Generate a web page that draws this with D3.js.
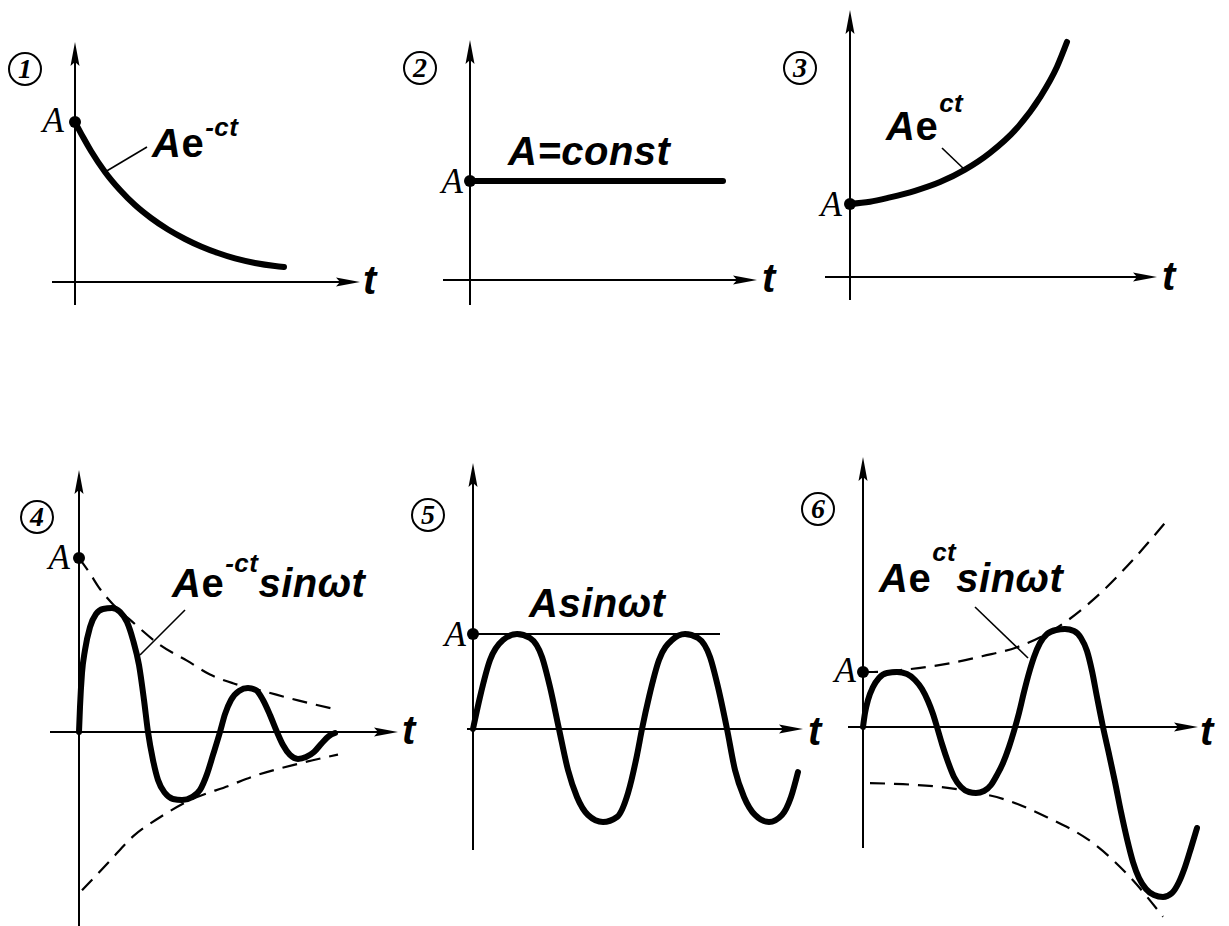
<!DOCTYPE html>
<html>
<head>
<meta charset="utf-8">
<script src="https://cdn.jsdelivr.net/npm/d3@7"></script>
<style>
  html, body { margin: 0; padding: 0; background: #fff; }
  svg { display: block; }
  .lbl { font-family: "Liberation Sans", Arial, sans-serif; font-weight: bold; font-style: italic; fill: #000; }
  .amp { font-family: "Liberation Serif", "Times New Roman", serif; font-style: italic; fill: #000; }
  .num { font-family: "Liberation Serif", "Times New Roman", serif; font-style: italic; font-weight: bold; fill: #000; }
</style>
</head>
<body>
<svg id="chart" width="1229" height="926"></svg>
<script>
// ---- Curve samples: time t (arbitrary units), value v relative to amplitude A ----

// 1: decaying exponential  A·e^(-ct)
const decayT = [0, 0.8, 1.6, 3.0, 4.5, 6.0, 7.6, 9.3, 11.0, 12.6, 14.3, 16.0, 18.0, 20.0, 20.9];
const decayV = [1.000, 0.906, 0.819, 0.688, 0.575, 0.481, 0.400, 0.328, 0.269, 0.222, 0.181, 0.147, 0.119, 0.100, 0.094];

// 2: constant  A = const
const constT = [0, 25.3];
const constV = [1, 1];

// 3: growing exponential  A·e^(ct)
const growT = [0, 2.0, 4.0, 6.5, 9.0, 11.5, 14.0, 16.7, 19.0, 20.7, 21.7];
const growV = [1.00, 1.03, 1.09, 1.18, 1.30, 1.47, 1.70, 2.04, 2.46, 2.88, 3.22];

// 4: damped oscillation  A·e^(-ct)·sin ωt  with its envelopes
const dampT = [0, 0.1, 0.3, 0.6, 1.1, 1.7, 2.4, 3.3, 4.1, 4.8, 5.4, 6.0, 6.5, 6.9, 7.4, 7.9, 8.6, 9.4, 10.3, 11.3, 12.1, 12.8, 13.4, 14.1, 14.6, 15.2, 16.0, 16.9, 17.7, 18.4, 19.1, 19.8, 20.4, 21.1, 21.9, 22.7, 23.5, 24.3, 25.0, 25.6];
const dampV = [0, 0.144, 0.339, 0.471, 0.603, 0.678, 0.707, 0.713, 0.690, 0.632, 0.529, 0.385, 0.184, 0, -0.161, -0.276, -0.351, -0.385, -0.391, -0.374, -0.333, -0.242, -0.132, 0, 0.103, 0.184, 0.236, 0.253, 0.241, 0.184, 0.098, 0, -0.075, -0.132, -0.155, -0.144, -0.115, -0.063, -0.023, -0.006];
const dampUpT = [0, 1.0, 2.0, 3.3, 5.4, 8.1, 10.8, 13.1, 15.4, 18.1, 22.0, 25.7];
const dampUpV = [1.00, 0.92, 0.83, 0.74, 0.63, 0.50, 0.41, 0.33, 0.28, 0.24, 0.18, 0.13];
const dampLoT = [0.3, 3.1, 5.4, 8.1, 10.8, 15.4, 16.7, 22.1, 25.9];
const dampLoV = [-0.91, -0.74, -0.60, -0.49, -0.40, -0.30, -0.27, -0.18, -0.13];

// 5: steady oscillation  A·sin ωt
const sineT = [0, 0.7, 1.7, 3.0, 4.4, 5.7, 6.9, 7.7, 8.6, 9.5, 10.4, 11.5, 13.0, 14.4, 15.5, 16.4, 16.9, 17.6, 18.6, 19.9, 21.2, 22.5, 23.7, 24.5, 25.4, 26.2, 27.1, 28.2, 29.6, 30.9, 31.8, 32.5];
const sineV = [0, 0.337, 0.726, 0.937, 1.000, 0.958, 0.758, 0.442, 0, -0.432, -0.716, -0.905, -0.979, -0.926, -0.674, -0.274, 0, 0.337, 0.726, 0.937, 1.000, 0.958, 0.758, 0.442, 0, -0.432, -0.716, -0.905, -0.979, -0.905, -0.716, -0.453];
const sineRefT = [0, 24.7];
const sineRefV = [1, 1];

// 6: growing oscillation  A·e^(ct)·sin ωt  with its envelopes
const swellT = [0, 0.2, 0.5, 1.0, 1.6, 2.4, 3.4, 4.4, 5.2, 5.9, 6.5, 7.0, 7.4, 7.9, 8.5, 9.1, 9.8, 10.6, 11.3, 12.1, 12.8, 13.4, 14.0, 14.6, 15.1, 15.6, 16.1, 16.6, 17.1, 17.7, 18.4, 19.3, 20.2, 21.1, 21.8, 22.4, 22.9, 23.4, 24.0, 24.6, 25.2, 25.8, 26.4, 27.0, 27.6, 28.3, 29.1, 30.0, 30.9, 31.6, 32.2, 32.8, 33.4];
const swellV = [0, 0.255, 0.491, 0.727, 0.891, 0.982, 1.000, 0.964, 0.855, 0.691, 0.473, 0.236, 0, -0.309, -0.636, -0.909, -1.091, -1.182, -1.200, -1.164, -1.055, -0.873, -0.655, -0.364, -0.073, 0.255, 0.636, 0.982, 1.273, 1.527, 1.691, 1.764, 1.782, 1.745, 1.618, 1.382, 1.018, 0.545, 0, -0.491, -1.000, -1.545, -2.036, -2.455, -2.745, -2.945, -3.055, -3.091, -3.018, -2.818, -2.545, -2.200, -1.836];
const swellUpT = [0, 1.0, 4.0, 8.7, 12.0, 15.4, 19.0, 23.0, 27.0, 30.7];
const swellUpV = [1.00, 1.00, 1.04, 1.16, 1.29, 1.45, 1.76, 2.31, 3.04, 3.82];
const swellLoT = [0.7, 4.0, 7.7, 11.0, 14.4, 18.4, 23.0, 26.7, 30.0];
const swellLoV = [-1.02, -1.04, -1.09, -1.18, -1.33, -1.64, -2.11, -2.73, -3.45];

// ---- Panel frames ----
const zip = (ts, vs) => ts.map((t, i) => ({ t, v: vs[i] }));

const panels = [
  { num: "1", circle: [25, 69], ox: 75, oy: 282, amp: 160, xAxis: [52, 360], yAxis: [305, 42],
    solid: zip(decayT, decayV),
    leader: [[147, 147], [105, 172]],
    label: { x: 152, y: 157, parts: [["A"], ["e", "up"], ["-ct", "sup", -21]] }, tLabel: [363, 294], aLabel: [64, 132] },
  { num: "2", circle: [420, 68], ox: 470, oy: 280, amp: 99, xAxis: [443, 757], yAxis: [305, 40],
    solid: zip(constT, constV), linear: true,
    label: { x: 508, y: 165, parts: [["A=const"]] }, tLabel: [762, 292], aLabel: [463, 193] },
  { num: "3", circle: [800, 68], ox: 850, oy: 277, amp: 73, xAxis: [825, 1157], yAxis: [300, 10],
    solid: zip(growT, growV),
    leader: [[942, 148], [965, 170]],
    label: { x: 886, y: 140, parts: [["A"], ["e", "up"], ["ct", "sup", -28]] }, tLabel: [1162, 290], aLabel: [842, 216] },
  { num: "4", circle: [37, 517], ox: 79, oy: 732, amp: 174, xAxis: [50, 398], yAxis: [926, 470],
    solid: zip(dampT, dampV),
    dashed: [zip(dampUpT, dampUpV), zip(dampLoT, dampLoV)],
    leader: [[185, 610], [140, 655]],
    label: { x: 172, y: 597, parts: [["A"], ["e", "up"], ["-ct", "sup", -25], ["sinωt", "back", 25]] }, tLabel: [402, 744], aLabel: [70, 569] },
  { num: "5", circle: [428, 515], ox: 473, oy: 729, amp: 95, xAxis: [467, 803], yAxis: [850, 463],
    solid: zip(sineT, sineV),
    thin: zip(sineRefT, sineRefV),
    label: { x: 529, y: 617, parts: [["Asinωt"]] }, tLabel: [808, 745], aLabel: [466, 646] },
  { num: "6", circle: [818, 509], ox: 863, oy: 727, amp: 55, xAxis: [848, 1198], yAxis: [848, 457],
    solid: zip(swellT, swellV),
    dashed: [zip(swellUpT, swellUpV), zip(swellLoT, swellLoV)],
    leader: [[975, 607], [1028, 658]],
    label: { x: 879, y: 592, parts: [["A"], ["e", "up"], ["ct", "sup", -31], ["sinωt", "back", 31]] }, tLabel: [1200, 745], aLabel: [856, 682] }
];

const PX_PER_T = 10;
const svg = d3.select("#chart");

function arrowHead(g, x, y, dir) {
  const L = 24, w = 4.5;
  let pts;
  if (dir === "right") pts = [[x, y], [x - L, y - w], [x - L + 4, y], [x - L, y + w]];
  else pts = [[x, y], [x - w, y + L], [x, y + L - 4], [x + w, y + L]];
  g.append("path").attr("d", d3.line()(pts) + "Z").attr("fill", "#000");
}

panels.forEach(p => {
  const g = svg.append("g");
  const x = d3.scaleLinear().domain([0, 1]).range([p.ox, p.ox + PX_PER_T]);
  const y = d3.scaleLinear().domain([0, 1]).range([p.oy, p.oy - p.amp]);
  const line = d3.line().x(d => x(d.t)).y(d => y(d.v))
    .curve(p.linear ? d3.curveLinear : d3.curveMonotoneX);

  // axes
  g.append("line").attr("x1", p.xAxis[0]).attr("x2", p.xAxis[1] - 10).attr("y1", y(0)).attr("y2", y(0))
    .attr("stroke", "#000").attr("stroke-width", 2);
  arrowHead(g, p.xAxis[1], y(0), "right");
  g.append("line").attr("x1", x(0)).attr("x2", x(0)).attr("y1", p.yAxis[0]).attr("y2", p.yAxis[1] + 10)
    .attr("stroke", "#000").attr("stroke-width", 2);
  arrowHead(g, x(0), p.yAxis[1], "up");

  // envelopes
  (p.dashed || []).forEach(env => {
    g.append("path").attr("d", line(env)).attr("fill", "none").attr("stroke", "#000")
      .attr("stroke-width", 2.2).attr("stroke-dasharray", "15,9");
  });

  // amplitude reference line
  if (p.thin) {
    g.append("path").attr("d", d3.line().x(d => x(d.t)).y(d => y(d.v))(p.thin))
      .attr("fill", "none").attr("stroke", "#000").attr("stroke-width", 1.8);
  }

  // main curve
  g.append("path").attr("d", line(p.solid)).attr("fill", "none").attr("stroke", "#000")
    .attr("stroke-width", 6).attr("stroke-linecap", "round").attr("stroke-linejoin", "round");

  // amplitude marker
  g.append("circle").attr("cx", x(0)).attr("cy", y(1)).attr("r", 6).attr("fill", "#000");
  g.append("text").attr("class", "amp").attr("x", p.aLabel[0]).attr("y", p.aLabel[1])
    .attr("text-anchor", "end").attr("font-size", 35).text("A");

  // leader line
  if (p.leader) {
    g.append("line").attr("x1", p.leader[0][0]).attr("y1", p.leader[0][1])
      .attr("x2", p.leader[1][0]).attr("y2", p.leader[1][1])
      .attr("stroke", "#000").attr("stroke-width", 1.6);
  }

  // formula label
  const t = g.append("text").attr("class", "lbl").attr("x", p.label.x).attr("y", p.label.y)
    .attr("font-size", 40).attr("letter-spacing", 0.5);
  p.label.parts.forEach(([s, kind, dy]) => {
    const ts = t.append("tspan").text(s);
    if (kind === "up") ts.attr("font-style", "normal");
    if (kind === "sup") ts.attr("font-size", 26).attr("dy", dy).attr("dx", 1);
    if (kind === "back") ts.attr("dy", dy);
  });

  // axis label t
  g.append("text").attr("class", "lbl").attr("x", p.tLabel[0]).attr("y", p.tLabel[1])
    .attr("font-size", 40).text("t");

  // panel number
  g.append("circle").attr("cx", p.circle[0]).attr("cy", p.circle[1]).attr("r", 16)
    .attr("fill", "none").attr("stroke", "#000").attr("stroke-width", 2);
  g.append("text").attr("class", "num").attr("x", p.circle[0]).attr("y", p.circle[1] + 9)
    .attr("text-anchor", "middle").attr("font-size", 28).text(p.num);
});
</script>
</body>
</html>
